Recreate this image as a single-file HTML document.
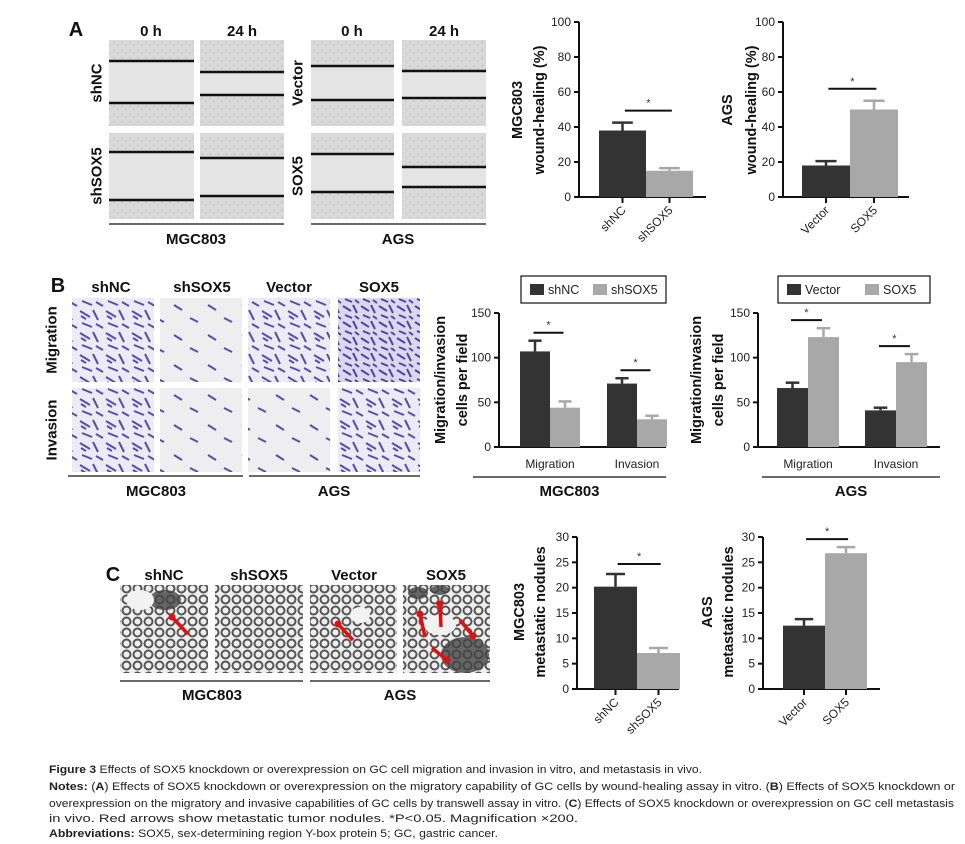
<!DOCTYPE html>
<html><head><meta charset="utf-8">
<style>
html,body{margin:0;padding:0;background:#fff;}
svg{display:block;font-family:"Liberation Sans",Arial,sans-serif;}
.b{font-weight:bold;}
</style></head>
<body>
<svg id="fig" width="965" height="844" viewBox="0 0 965 844" xmlns="http://www.w3.org/2000/svg">
<defs>
<pattern id="wound" width="8" height="8" patternUnits="userSpaceOnUse"><rect width="8" height="8" fill="#d9d9d9"/><circle cx="2" cy="2" r="1" fill="#c4c4c4"/><circle cx="6" cy="5" r="1" fill="#cacaca"/></pattern>
<pattern id="cells" width="26" height="22" patternUnits="userSpaceOnUse"><rect width="26" height="22" fill="#eceaf2"/><path d="M2 3 L12 9 M15 2 L20 12 M4 15 L14 19 M18 16 L25 20 M8 11 L3 8" stroke="#5a4bb0" stroke-width="2"/></pattern>
<pattern id="cellsDense" width="18" height="16" patternUnits="userSpaceOnUse"><rect width="18" height="16" fill="#dcd8ec"/><path d="M1 2 L9 7 M11 1 L15 9 M3 11 L10 14 M13 12 L17 15" stroke="#5040b0" stroke-width="2"/></pattern>
<pattern id="cellsSparse" width="34" height="30" patternUnits="userSpaceOnUse"><rect width="34" height="30" fill="#eeeef0"/><path d="M4 5 L12 10 M20 18 L28 22" stroke="#5a4bb0" stroke-width="2"/></pattern>
<pattern id="lung" width="11" height="11" patternUnits="userSpaceOnUse"><rect width="11" height="11" fill="#eeeeee"/><circle cx="5.5" cy="5.5" r="4" fill="none" stroke="#555" stroke-width="2"/></pattern>
</defs>
<g id="left"></g>
<g id="charts"></g>
<g id="caption" font-size="11" fill="#222">
<text x="49" y="773" textLength="653" lengthAdjust="spacingAndGlyphs"><tspan class="b">Figure 3</tspan> Effects of SOX5 knockdown or overexpression on GC cell migration and invasion in vitro, and metastasis in vivo.</text>
<text x="49" y="790" textLength="906" lengthAdjust="spacingAndGlyphs"><tspan class="b">Notes:</tspan> (<tspan class="b">A</tspan>) Effects of SOX5 knockdown or overexpression on the migratory capability of GC cells by wound-healing assay in vitro. (<tspan class="b">B</tspan>) Effects of SOX5 knockdown or</text>
<text x="49" y="807" textLength="905" lengthAdjust="spacingAndGlyphs">overexpression on the migratory and invasive capabilities of GC cells by transwell assay in vitro. (<tspan class="b">C</tspan>) Effects of SOX5 knockdown or overexpression on GC cell metastasis</text>
<text x="49" y="822" textLength="529" lengthAdjust="spacingAndGlyphs">in vivo. Red arrows show metastatic tumor nodules. *P&lt;0.05. Magnification ×200.</text>
<text x="49" y="837" textLength="449" lengthAdjust="spacingAndGlyphs"><tspan class="b">Abbreviations:</tspan> SOX5, sex-determining region Y-box protein 5; GC, gastric cancer.</text>
</g>
</svg>
<script>
// ---- Chart data ----
const woundCatsMGC = ['shNC','shSOX5'];
const woundValsMGC = [38, 15];
const woundErrMGC = [4.5, 1.5];
const woundCatsAGS = ['Vector','SOX5'];
const woundValsAGS = [18, 50];
const woundErrAGS = [2.5, 5];
const woundTicks = [0,20,40,60,80,100];

const transGroups = ['Migration','Invasion'];
const transShNC = [107, 71];
const transShNCErr = [12, 6];
const transShSOX5 = [44, 31];
const transShSOX5Err = [7, 4];
const transVector = [66, 41];
const transVectorErr = [6, 3];
const transSOX5 = [123, 95];
const transSOX5Err = [10, 9];
const transTicks = [0,50,100,150];

const metaCatsMGC = ['shNC','shSOX5'];
const metaValsMGC = [20.2, 7.1];
const metaErrMGC = [2.5, 1.0];
const metaCatsAGS = ['Vector','SOX5'];
const metaValsAGS = [12.5, 26.8];
const metaErrAGS = [1.3, 1.2];
const metaTicks = [0,5,10,15,20,25,30];

const NS='http://www.w3.org/2000/svg';
const DARK='#333333', LIGHT='#a8a8a8';
function el(tag, attrs, parent, txt){
  const e=document.createElementNS(NS,tag);
  for(const k in attrs) e.setAttribute(k,attrs[k]);
  if(txt!==undefined) e.textContent=txt;
  parent.appendChild(e); return e;
}
const charts=document.getElementById('charts');
const left=document.getElementById('left');

function axes(g, c){
  const ys=v=>c.yBot-(v/c.max)*(c.yBot-c.yTop);
  const ax=el('line',{x1:c.x0,y1:c.yTop,x2:c.x0,y2:c.yBot,stroke:'#111','stroke-width':2},g);
  
  
  const bx=el('line',{x1:c.x0-1,y1:c.yBot,x2:c.x1,y2:c.yBot,stroke:'#111','stroke-width':2},g);
  
  
  c.ticks.forEach(t=>{
    el('line',{x1:c.x0-5,y1:ys(t),x2:c.x0,y2:ys(t),stroke:'#111','stroke-width':2},g);
    const tl=el('text',{x:c.x0-8,y:ys(t)+4,'text-anchor':'end','font-size':12,fill:'#222'},g,String(t));
    
    
  });
  return ys;
}
function ytitle(g, lines, xs, cy){
  lines.forEach((s,i)=>{
    const t=el('text',{x:xs[i],y:cy,'text-anchor':'middle','dominant-baseline':'central','font-size':14.5,'font-weight':'bold',fill:'#111',transform:`rotate(-90 ${xs[i]} ${cy})`},g,s);
    
    
  });
}
function bar(g,x,w,v,err,ys,color,name){
  const r=el('rect',{x:x,y:ys(v),width:w,height:ys(0)-ys(v),fill:color},g);
  
  
  const cx=x+w/2, top=ys(v+err);
  el('line',{x1:cx,y1:ys(v),x2:cx,y2:top,stroke:color,'stroke-width':2.5},g);
  el('line',{x1:cx-w*0.22,y1:top,x2:cx+w*0.22,y2:top,stroke:color,'stroke-width':2.5},g);
}
function sig(g,xa,xb,y,name){
  const s=el('line',{x1:xa,y1:y,x2:xb,y2:y,stroke:'#111','stroke-width':2},g);
  
  
  el('text',{x:(xa+xb)/2,y:y-4,'text-anchor':'middle','font-size':11,fill:'#333'},g,'*');
}
function twoBar(c){
  const g=el('g',{},charts);
  
  
  const ys=axes(g,c);
  const x0=c.barStart, w=c.barW;
  const cols=[DARK,LIGHT];
  c.cats.forEach((cat,i)=>{
    const bx=x0+i*w;
    bar(g,bx,w,c.vals[i],c.err[i],ys,cols[i],'bar-'+cat.toLowerCase());
    const cx=bx+w/2;
    el('line',{x1:cx,y1:c.yBot,x2:cx,y2:c.yBot+6,stroke:'#111','stroke-width':2},g);
    const lx=cx+4, ly=c.yBot+14;
    const t=el('text',{x:lx,y:ly,'text-anchor':'end','font-size':12,fill:'#222',transform:`rotate(-45 ${lx} ${ly})`},g,cat);
    
    
  });
  const m=Math.max(c.vals[0]+c.err[0],c.vals[1]+c.err[1]);
  sig(g,x0+w*0.55,x0+w*1.55,ys(m)-c.sigGap,'significance-bar');
  ytitle(g,c.title,c.tx,c.ty);
}
twoBar({name:'chart-a-mgc803',x0:579,x1:706,yTop:22,yBot:197,max:100,ticks:woundTicks,barStart:599,barW:47,cats:woundCatsMGC,vals:woundValsMGC,err:woundErrMGC,sigGap:12,title:['MGC803','wound-healing (%)'],tx:[518,540],ty:110});
twoBar({name:'chart-a-ags',x0:783,x1:909,yTop:22,yBot:197,max:100,ticks:woundTicks,barStart:802,barW:48,cats:woundCatsAGS,vals:woundValsAGS,err:woundErrAGS,sigGap:12,title:['AGS','wound-healing (%)'],tx:[728,752],ty:110});
twoBar({name:'chart-c-mgc803',x0:577,x1:679,yTop:537,yBot:689,max:30,ticks:metaTicks,barStart:594,barW:43,cats:metaCatsMGC,vals:metaValsMGC,err:metaErrMGC,sigGap:10,title:['MGC803','metastatic nodules'],tx:[520,541],ty:612});
twoBar({name:'chart-c-ags',x0:763,x1:880,yTop:537,yBot:689,max:30,ticks:metaTicks,barStart:783,barW:42,cats:metaCatsAGS,vals:metaValsAGS,err:metaErrAGS,sigGap:8,title:['AGS','metastatic nodules'],tx:[708,729],ty:612});

function groupChart(c){
  const g=el('g',{},charts);
  
  
  const ys=axes(g,c);
  const w=c.barW;
  transGroups.forEach((grp,i)=>{
    const gx=c.groupStart[i];
    bar(g,gx,w,c.a[i],c.ae[i],ys,DARK,'bar-'+c.an+'-'+grp.toLowerCase());
    bar(g,gx+w,w,c.b[i],c.be[i],ys,LIGHT,'bar-'+c.bn+'-'+grp.toLowerCase());
    const t=el('text',{x:gx+w,y:c.yBot+21,'text-anchor':'middle','font-size':12,fill:'#222'},g,grp);
    
    
    const m=Math.max(c.a[i]+c.ae[i],c.b[i]+c.be[i]);
    sig(g,gx+w*0.45,gx+w*1.45,ys(m)-8,'significance-bar');
  });
  const u=el('line',{x1:c.ux0,y1:477,x2:c.x1,y2:477,stroke:'#111','stroke-width':1.2},g);
  
  
  const cl=el('text',{x:(c.ux0+c.x1)/2,y:496,'text-anchor':'middle','font-size':15,'font-weight':'bold',fill:'#111'},g,c.cell);
  
  
  const lg=el('g',{},g);
  
  
  el('rect',{x:c.lx,y:276,width:c.lw,height:27,fill:'#fff',stroke:'#111','stroke-width':1.2},lg);
  const e1=el('g',{},lg);
  
  
  el('rect',{x:c.lx+9,y:284,width:14,height:11,fill:DARK},e1);
  el('text',{x:c.lx+27,y:294,'font-size':12.5,fill:'#222'},e1,c.an);
  const e2=el('g',{},lg);
  
  
  el('rect',{x:c.lx+c.l2,y:284,width:14,height:11,fill:LIGHT},e2);
  el('text',{x:c.lx+c.l2+18,y:294,'font-size':12.5,fill:'#222'},e2,c.bn);
  ytitle(g,['Migration/invasion','cells per field'],c.tx,380);
}
groupChart({name:'chart-b-mgc803',x0:499,x1:666,yTop:313,yBot:447,max:150,ticks:transTicks,barW:30,groupStart:[520,607],a:transShNC,ae:transShNCErr,b:transShSOX5,be:transShSOX5Err,an:'shNC',bn:'shSOX5',ux0:473,cell:'MGC803',lx:521,lw:145,l2:72,tx:[441,463]});
groupChart({name:'chart-b-ags',x0:758,x1:940,yTop:313,yBot:447,max:150,ticks:transTicks,barW:31,groupStart:[777,865],a:transVector,ae:transVectorErr,b:transSOX5,be:transSOX5Err,an:'Vector',bn:'SOX5',ux0:762,cell:'AGS',lx:778,lw:152,l2:87,tx:[697,719]});

// ---- Left image panels ----
function label(txt,x,y,size,rot,name){
  const a={x:x,y:y,'text-anchor':'middle','font-size':size,'font-weight':'bold',fill:'#111'};
  if(rot){a.transform=`rotate(-90 ${x} ${y})`;a['dominant-baseline']='central';}
  const t=el('text',a,left,txt);
  
  
}
function img(x,y,w,h,fill,name){
  const r=el('rect',{x:x,y:y,width:w,height:h,fill:fill},left);
  
  
  return r;
}
// Panel A
label('A',76,36,20,false,'panel-label-a');
[['0 h',151],['24 h',242],['0 h',352],['24 h',444]].forEach(p=>label(p[0],p[1],36,15,false,'column-label'));
label('shNC',97,83,15,true,'row-label');label('shSOX5',97,176,15,true,'row-label');
label('Vector',298,83,15,true,'row-label');label('SOX5',298,176,15,true,'row-label');
const woundImgs=[[109,40,61,103],[200,40,72,95],[311,40,66,100],[402,40,71,98],[109,133,152,200],[200,133,158,196],[311,133,154,192],[402,133,167,187]];
woundImgs.forEach(a=>{
  const x=a[0],y=a[1],w=a[0]<300?(a[0]<150?85:84):(a[0]<350?83:84);
  img(x,y,w,86,'url(#wound)','wound-image');
  el('rect',{x:x,y:a[2],width:w,height:a[3]-a[2],fill:'#e4e4e4'},left);
  el('line',{x1:x,y1:a[2],x2:x+w,y2:a[2],stroke:'#111','stroke-width':2.5},left);
  el('line',{x1:x,y1:a[3],x2:x+w,y2:a[3],stroke:'#111','stroke-width':2.5},left);
});
el('line',{x1:109,y1:224,x2:284,y2:224,stroke:'#111','stroke-width':1.2},left);
el('line',{x1:311,y1:224,x2:486,y2:224,stroke:'#111','stroke-width':1.2},left);
label('MGC803',196,244,15,false,'cell-line-label');label('AGS',398,244,15,false,'cell-line-label');
// Panel B
label('B',58,292,20,false,'panel-label-b');
[['shNC',111],['shSOX5',202],['Vector',289],['SOX5',379]].forEach(p=>label(p[0],p[1],292,15,false,'column-label'));
label('Migration',52,340,15,true,'row-label');label('Invasion',52,430,15,true,'row-label');
const bX=[72,160,248,338];
const bFill=[['url(#cells)','url(#cells)'],['url(#cellsSparse)','url(#cellsSparse)'],['url(#cells)','url(#cellsSparse)'],['url(#cellsDense)','url(#cells)']];
bX.forEach((x,i)=>{img(x,298,82,84,bFill[i][0],'transwell-image');img(x,388,82,84,bFill[i][1],'transwell-image');});
el('line',{x1:68,y1:476,x2:243,y2:476,stroke:'#111','stroke-width':1.2},left);
el('line',{x1:249,y1:476,x2:420,y2:476,stroke:'#111','stroke-width':1.2},left);
label('MGC803',156,496,15,false,'cell-line-label');label('AGS',334,496,15,false,'cell-line-label');
// Panel C
label('C',113,581,20,false,'panel-label-c');
[['shNC',164],['shSOX5',259],['Vector',354],['SOX5',446]].forEach(p=>label(p[0],p[1],580,15,false,'column-label'));
[[120,88],[215,88],[310,87],[403,87]].forEach(a=>img(a[0],585,a[1],88,'url(#lung)','lung-image'));
// dark nodules and white airspaces
[[165,600,16,10],[465,655,24,18],[418,593,10,6],[440,590,9,5]].forEach(n=>{
  const e=el('ellipse',{cx:n[0],cy:n[1],rx:n[2],ry:n[3],fill:'#444',opacity:0.8},left);
  
  
});
[[140,600,14,10],[440,625,16,10],[360,615,10,8]].forEach(n=>el('ellipse',{cx:n[0],cy:n[1],rx:n[2],ry:n[3],fill:'#f2f2f2'},left));
const arrows=[[188,634,172,617],[353,640,338,624],[425,637,420,614],[441,627,440,604],[460,620,473,636],[432,648,447,660]];
arrows.forEach(a=>{
  const ar=el('line',{x1:a[0],y1:a[1],x2:a[2],y2:a[3],stroke:'#e01010','stroke-width':3.5},left);
  
  
  el('circle',{cx:a[2],cy:a[3],r:3.5,fill:'#e01010'},left);
});
el('line',{x1:120,y1:681,x2:303,y2:681,stroke:'#111','stroke-width':1.2},left);
el('line',{x1:310,y1:681,x2:490,y2:681,stroke:'#111','stroke-width':1.2},left);
label('MGC803',212,700,15,false,'cell-line-label');label('AGS',400,700,15,false,'cell-line-label');
</script>
</body></html>
